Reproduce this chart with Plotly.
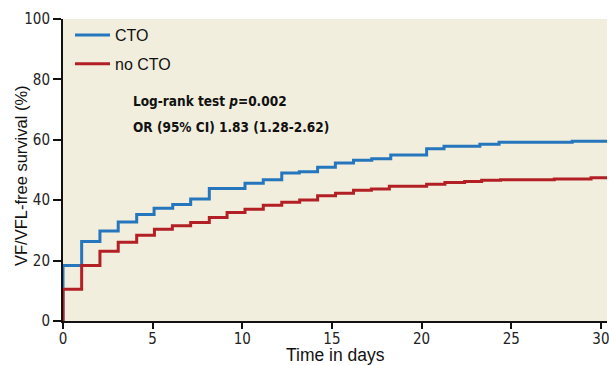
import plotly.graph_objects as go

# Kaplan-Meier style step data
cto_days = [0, 0, 1.04, 2.06, 3.08, 4.11, 5.08, 6.12, 7.12, 8.16, 10.15, 11.17, 12.2,
            13.18, 14.2, 15.19, 16.2, 17.22, 18.28, 20.28, 21.25, 23.25, 24.32, 28.4, 30.34]
cto_surv = [0, 18.4, 26.3, 29.8, 32.8, 35.3, 37.3, 38.6, 40.4, 43.9, 45.6, 46.8, 49.0,
            49.4, 50.9, 52.3, 53.2, 53.7, 55.0, 57.0, 57.9, 58.5, 59.2, 59.5, 59.5]

nocto_days = [0, 0, 1.04, 2.06, 3.08, 4.11, 5.1, 6.1, 7.12, 8.16, 9.15, 10.15, 11.17, 12.2,
              13.2, 14.2, 15.2, 16.2, 17.2, 18.2, 20.28, 21.3, 22.4, 23.35, 24.4, 27.4, 29.45, 30.34]
nocto_surv = [0, 10.5, 18.4, 23.1, 26.1, 28.4, 30.4, 31.5, 32.6, 34.3, 35.9, 37.0, 38.3, 39.3,
              40.1, 41.5, 42.3, 43.3, 43.7, 44.6, 45.3, 45.9, 46.2, 46.6, 46.8, 47.0, 47.4, 47.4]

x_ticks = [0, 5, 10, 15, 20, 25, 30]
y_ticks = [0, 20, 40, 60, 80, 100]

stats_lines = ["<b>Log-rank test <i>p</i>=0.002</b>", "<b>OR (95% CI) 1.83 (1.28-2.62)</b>"]
y_title = "VF/VFL-free survival (%)"
x_title = "Time in days"

BLUE = "#2676bd"
RED = "#b22026"
BG = "#f2eedd"
NARROW = "DejaVu Sans Condensed, DejaVu Sans, sans-serif"
SANS = "Liberation Sans, Arial, sans-serif"

fig = go.Figure()
fig.add_trace(go.Scatter(x=cto_days, y=cto_surv, mode="lines", name="CTO",
                         line=dict(color=BLUE, width=3, shape="hv"), legendgroup="a"))
fig.add_trace(go.Scatter(x=nocto_days, y=nocto_surv, mode="lines", name="no CTO",
                         line=dict(color=RED, width=3, shape="hv"), legendgroup="b"))

for txt, yy in zip(stats_lines, [0.728, 0.642]):
    fig.add_annotation(
        x=0.125, y=yy, xref="paper", yref="paper", xanchor="left", yanchor="middle",
        text=txt, showarrow=False, align="left",
        font=dict(family=NARROW, size=13.5, color="#111"),
    )

# axis titles placed as text
fig.add_annotation(
    x=-0.0772, y=0.48, xref="paper", yref="paper", xanchor="center", yanchor="middle",
    text=y_title, textangle=-90, showarrow=False,
    font=dict(family=SANS, size=16.5, color="#111"),
)
fig.add_annotation(
    x=0.5, y=-0.113, xref="paper", yref="paper", xanchor="center", yanchor="middle",
    text=x_title, showarrow=False,
    font=dict(family=SANS, size=17.5, color="#111"),
)

fig.update_layout(
    width=609, height=365,
    margin=dict(l=63, r=2, t=19, b=44),
    paper_bgcolor="white", plot_bgcolor=BG,
    showlegend=True,
    legend=dict(x=0.0129, y=1.003, xanchor="left", yanchor="top",
                bgcolor="rgba(0,0,0,0)", tracegroupgap=5, itemwidth=35,
                font=dict(family=SANS, size=16, color="#111")),
    xaxis=dict(range=[0, 30.34], tickvals=x_ticks, showgrid=False, zeroline=False,
               automargin=False, ticklabeloverflow="allow", ticklabelstandoff=-3,
               showline=True, linecolor="#111", linewidth=2, ticks="outside",
               ticklen=6, tickwidth=1.5, tickcolor="#111",
               tickfont=dict(family=NARROW, size=15, color="#222")),
    yaxis=dict(range=[0, 100], tickvals=y_ticks, showgrid=False, zeroline=False,
               automargin=False, ticklabeloverflow="allow",
               showline=True, linecolor="#111", linewidth=2, ticks="outside",
               ticklen=8, tickwidth=1.5, tickcolor="#111",
               tickfont=dict(family=NARROW, size=15, color="#222")),
)

fig.write_html("out.html", config={"displayModeBar": False},
               post_script="document.body.style.margin='0';document.body.style.padding='0';")
